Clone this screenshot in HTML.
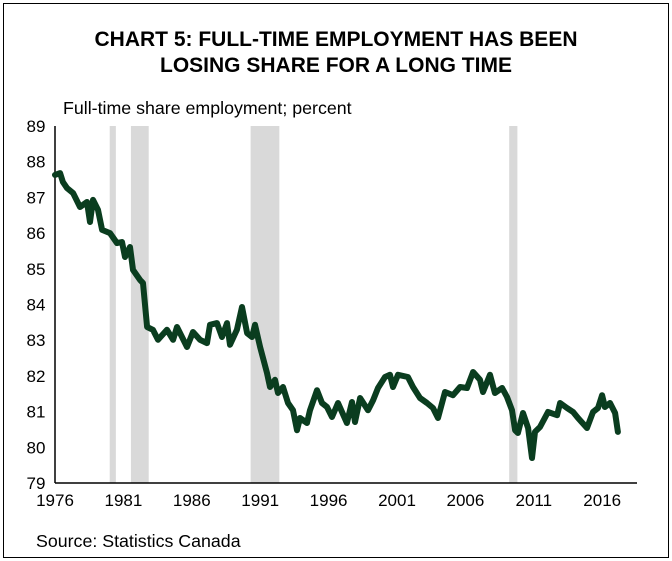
<!DOCTYPE html>
<html><head><meta charset="utf-8"><style>
body{margin:0;background:#fff;width:672px;height:561px;overflow:hidden;font-family:"Liberation Sans",Arial,sans-serif}
#frame{position:absolute;left:3px;top:3px;width:664px;height:553px;border:1px solid #000}
</style></head><body>
<div id="frame"></div>
<svg id="chart" width="672" height="561" style="position:absolute;left:0;top:0">
<text x="336" y="46" text-anchor="middle" font-size="21" font-weight="bold">CHART 5: FULL-TIME EMPLOYMENT HAS BEEN</text>
<text x="336" y="72" text-anchor="middle" font-size="21" font-weight="bold">LOSING SHARE FOR A LONG TIME</text>
<text x="63" y="114" font-size="17.8">Full-time share employment; percent</text>
<text x="36" y="547" font-size="17.8">Source: Statistics Canada</text>
<g id="rec"></g><g id="axes"></g><g id="series"></g>
</svg>
<script>
const recStart=[1980.0,1981.55,1990.3,2009.2];
const recEnd=[1980.45,1982.85,1992.4,2009.8];
const yTicks=[79,80,81,82,83,84,85,86,87,88,89];
const xTicks=[1976,1981,1986,1991,1996,2001,2006,2011,2016];
const years=[1976.0,1976.37,1976.58,1976.88,1977.32,1977.83,1978.34,1978.56,1978.78,1979.14,1979.44,1980.02,1980.53,1980.9,1981.12,1981.48,1981.7,1982.21,1982.43,1982.73,1983.16,1983.53,1984.19,1984.63,1984.92,1985.65,1986.09,1986.6,1987.11,1987.33,1987.84,1988.21,1988.57,1988.79,1989.3,1989.67,1990.04,1990.4,1990.62,1990.99,1991.5,1991.72,1992.08,1992.3,1992.67,1993.03,1993.4,1993.69,1993.91,1994.42,1994.64,1995.15,1995.52,1995.88,1996.25,1996.69,1997.34,1997.71,1997.93,1998.3,1998.88,1999.25,1999.61,2000.12,2000.49,2000.71,2001.07,2001.8,2002.17,2002.68,2003.19,2003.63,2004.0,2004.51,2005.09,2005.61,2006.12,2006.56,2007.07,2007.29,2007.8,2008.16,2008.68,2009.04,2009.41,2009.63,2009.84,2010.21,2010.58,2010.87,2011.09,2011.45,2012.04,2012.7,2012.92,2013.43,2013.87,2014.23,2014.89,2015.33,2015.69,2015.99,2016.2,2016.57,2016.94,2017.15];
const shares=[87.63,87.68,87.43,87.26,87.12,86.73,86.87,86.31,86.93,86.65,86.09,86.0,85.72,85.75,85.33,85.61,84.97,84.69,84.6,83.37,83.29,83.01,83.29,83.01,83.37,82.81,83.23,83.01,82.92,83.43,83.48,83.09,83.48,82.87,83.29,83.93,83.2,83.09,83.43,82.81,82.08,81.69,81.89,81.52,81.69,81.24,81.04,80.48,80.82,80.68,81.04,81.6,81.24,81.13,80.85,81.24,80.68,81.27,80.71,81.38,81.04,81.32,81.66,81.97,82.03,81.69,82.03,81.97,81.69,81.38,81.24,81.1,80.82,81.55,81.46,81.69,81.66,82.11,81.89,81.55,82.03,81.52,81.66,81.41,81.04,80.48,80.4,80.96,80.54,79.7,80.43,80.57,80.99,80.9,81.24,81.1,80.99,80.82,80.54,80.99,81.1,81.46,81.13,81.24,80.96,80.43];
const NS='http://www.w3.org/2000/svg';
const X0=55,X1=637,Y0=483,Y1=126;
const xs=y=>X0+(y-1976)*13.68;
const ys=v=>Y0-(v-79)*(Y0-Y1)/10;
function mk(t,a,p){const e=document.createElementNS(NS,t);for(const k in a)e.setAttribute(k,a[k]);p.appendChild(e);return e;}
const rec=document.getElementById('rec'),ax=document.getElementById('axes'),se=document.getElementById('series');
recStart.forEach((s,i)=>{const r=mk('rect',{x:xs(s),y:Y1,width:xs(recEnd[i])-xs(s),height:Y0-Y1,fill:'#d9d9d9'},rec);

});
const ya=mk('line',{x1:X0,y1:Y1,x2:X0,y2:Y0,stroke:'#000','stroke-width':1.5},ax);


const xa=mk('line',{x1:X0,y1:Y0,x2:X1,y2:Y0,stroke:'#000','stroke-width':1.5},ax);


yTicks.forEach(v=>{const t=mk('text',{x:X0-19,y:ys(v)+6,'text-anchor':'middle','font-size':17},ax);t.textContent=v;

});
xTicks.forEach(v=>{const t=mk('text',{x:xs(v),y:Y0+23,'text-anchor':'middle','font-size':17},ax);t.textContent=v;

});
const d=years.map((y,i)=>(i?'L':'M')+xs(y).toFixed(1)+','+ys(shares[i]).toFixed(1)).join('');
const p=mk('path',{d:d,fill:'none',stroke:'#0a3d1f','stroke-width':6,'stroke-linejoin':'round','stroke-linecap':'round'},se);


</script>
</body></html>
